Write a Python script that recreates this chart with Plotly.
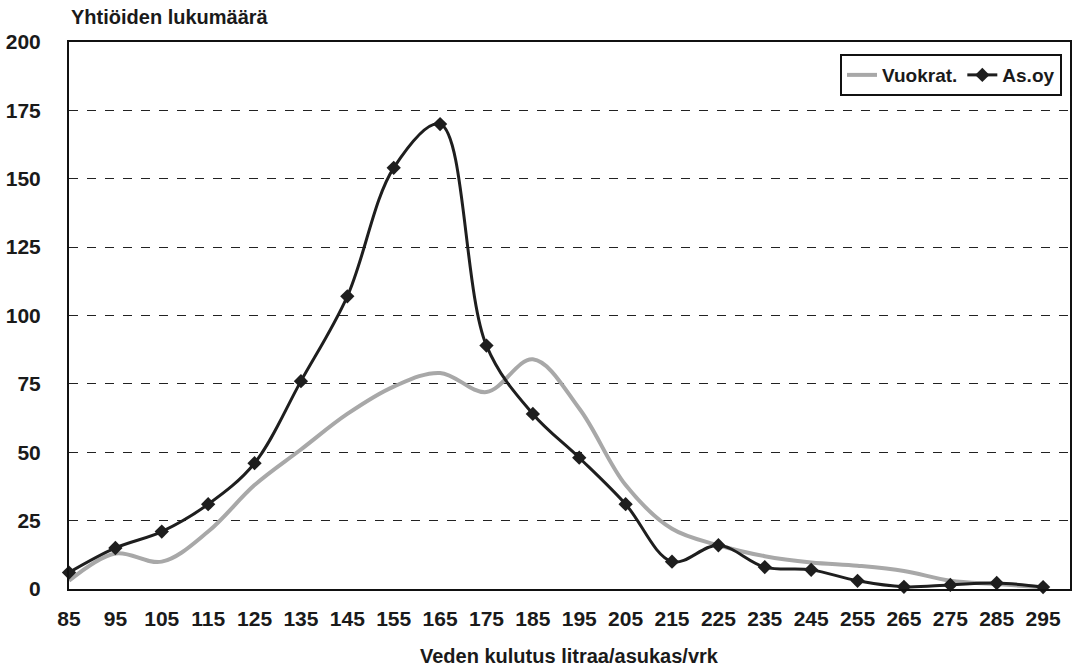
import plotly.graph_objects as go

categories = [85, 95, 105, 115, 125, 135, 145, 155, 165, 175, 185,
              195, 205, 215, 225, 235, 245, 255, 265, 275, 285, 295]
vuokrat = [3, 13, 10, 21, 38, 51, 64, 74, 79, 72, 84,
           66, 38, 22, 16, 12, 9.7, 8.5, 6.6, 3, 1.8, 0.6]
asoy = [6, 15, 21, 31, 46, 76, 107, 154, 170, 89, 64,
        48, 31, 10, 16, 8, 7, 3, 0.8, 1.5, 2.2, 0.7]
y_ticks = [0, 25, 50, 75, 100, 125, 150, 175, 200]

FAM = "Liberation Sans, Arial, sans-serif"
tick_font = dict(family=FAM, size=21, color="#1a1a1a", weight="bold")
title_font = dict(family=FAM, size=20, color="#1a1a1a", weight="bold")

fig = go.Figure()
fig.add_trace(go.Scatter(
    x=categories, y=vuokrat, name="Vuokrat.", mode="lines",
    line=dict(color="#a8a8a8", width=4, shape="spline", smoothing=1.0),
))
fig.add_trace(go.Scatter(
    x=categories, y=asoy, name="As.oy", mode="lines+markers",
    line=dict(color="#1e1e1e", width=3, shape="spline", smoothing=1.0),
    marker=dict(symbol="diamond", size=11, color="#1e1e1e"),
    cliponaxis=False,
))

fig.update_layout(
    width=1074, height=668,
    margin=dict(l=69, r=2, t=42, b=79),
    paper_bgcolor="white", plot_bgcolor="white",
    font=tick_font,
    showlegend=True,
    legend=dict(
        orientation="h", x=0.992, xanchor="right", y=0.978, yanchor="top",
        bordercolor="#111", borderwidth=2, bgcolor="white",
        font=dict(family=FAM, size=19, color="#1a1a1a", weight="bold"),
        itemwidth=30, tracegroupgap=0,
    ),
    xaxis=dict(
        range=[85, 300.8], tickvals=categories, ticktext=[str(c) for c in categories],
        showgrid=False, zeroline=False,
        showline=True, linecolor="#111", linewidth=2, mirror=True,
        ticks="", ticklabelstandoff=10, tickfont=tick_font,
    ),
    yaxis=dict(
        range=[0, 200], tickvals=y_ticks,
        showgrid=True, gridcolor="#222", gridwidth=1, griddash="dash",
        zeroline=False,
        showline=True, linecolor="#111", linewidth=2, mirror=True,
        ticks="", ticklabelstandoff=22, tickfont=tick_font,
    ),
    annotations=[
        dict(text="Yhtiöiden lukumäärä", xref="paper", yref="paper",
             x=0, y=1.0457, xanchor="left", yanchor="middle",
             showarrow=False, font=title_font),
        dict(text="Veden kulutus litraa/asukas/vrk", xref="paper", yref="paper",
             x=0.5, y=-0.122, xanchor="center", yanchor="middle",
             showarrow=False, font=title_font),
    ],
)

fig.write_html("out.html", config={"displayModeBar": False},
               post_script="document.body.style.margin='0px';")
